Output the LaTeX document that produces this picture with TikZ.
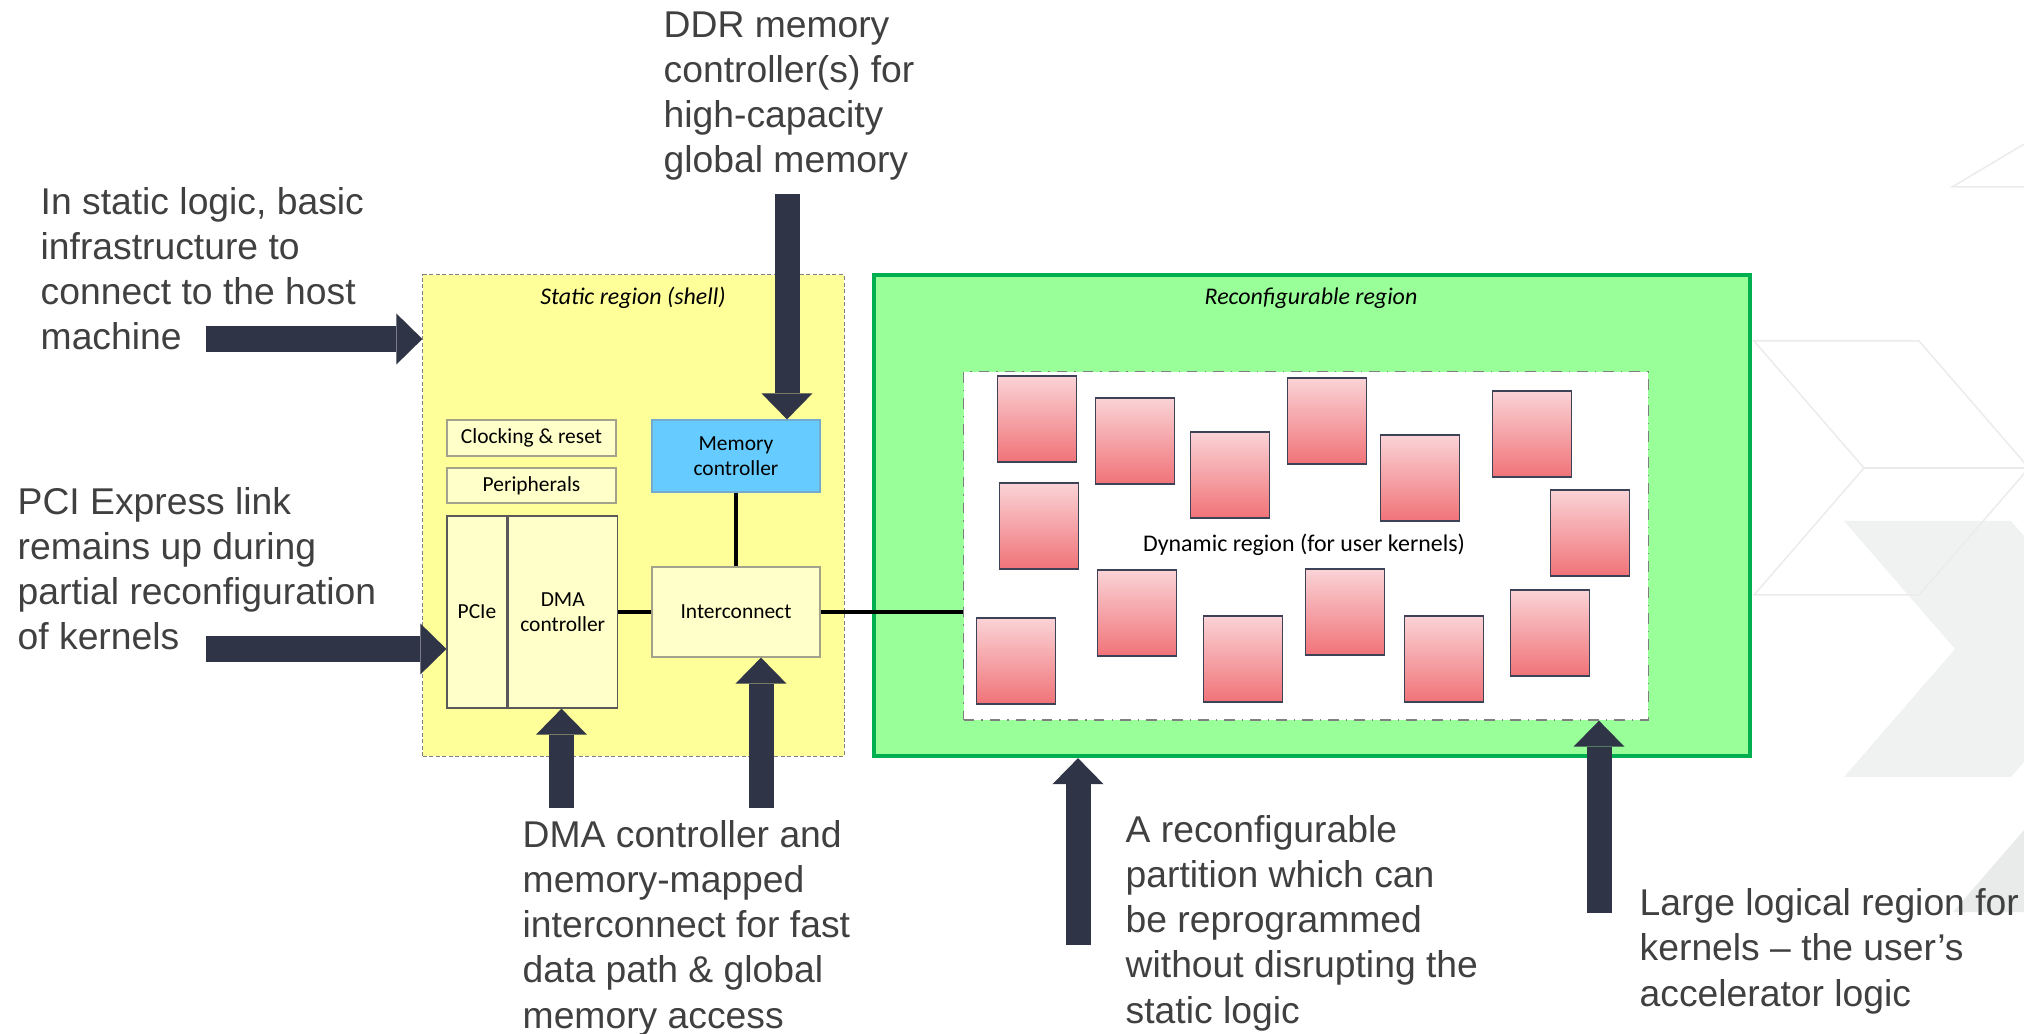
\documentclass[tikz,border=0pt]{standalone}
\usepackage{fontspec}
\setmainfont{Liberation Sans}
\newfontfamily\calibri{Carlito}
\usepackage{xcolor}
\usepackage{tikz}
\usetikzlibrary{arrows.meta}
\usetikzlibrary{positioning, calc}

\definecolor{txtgray}{HTML}{404040}
\definecolor{staticc}{HTML}{FFFF99}
\definecolor{regionb}{HTML}{808080}
\definecolor{boxc}{HTML}{FFFFC9}
\definecolor{boxb}{HTML}{A3A38C}
\definecolor{memcc}{HTML}{66CCFF}
\definecolor{memcb}{HTML}{74AACF}
\definecolor{greenc}{HTML}{99FF99}
\definecolor{greenb}{HTML}{00B050}
\definecolor{kerntop}{HTML}{FAD3D6}
\definecolor{kernbot}{HTML}{F07378}
\definecolor{kernb}{HTML}{3D4257}
\definecolor{arrowc}{HTML}{2F3447}
\definecolor{wmline}{HTML}{EBEBEB}
\definecolor{wmfill}{HTML}{F0F1F1}
\definecolor{wmfilltwo}{HTML}{E9EAEA}

\begin{document}
\begin{tikzpicture}[x=0.01cm, y=-0.01cm,
        txt/.style={font=\fontsize{10.6}{12.8}\selectfont, text=txtgray, align=left, inner sep=0pt, anchor=base west},
        title/.style={font=\calibri\itshape\fontsize{6.8}{8}\selectfont, inner sep=0pt},
        box/.style={draw=boxb, line width=0.012cm, fill=boxc, inner sep=0pt, align=center, font=\calibri\fontsize{6.1}{7.2}\selectfont},
        kernel/.style={draw=kernb, line width=0.014cm, top color=kerntop, bottom color=kernbot, minimum width=0.79cm, minimum height=0.86cm, inner sep=0pt},
        wire/.style={line width=0.04cm},
        bigarrow/.style={draw=arrowc, line width=0.25cm, -{Triangle[length=0.26cm, width=0.51cm, line width=0pt]}}
        ]
        \useasboundingbox (0,0) rectangle (2024,1034);

        \begin{scope}
        \clip (0,0) rectangle (2024,1034);
        \fill[wmfill] (1844,521) -- (2011,521) -- (2122,649) -- (2011,777) -- (1844,777) -- (1955,649) -- cycle;
        \fill[wmfilltwo] (1953,912) -- (2095,748) -- (2200,748) -- (2200,912) -- cycle;
        \draw[wmline, line width=0.015cm] (1754,341) -- (1919,341) -- (2029,468) -- (1919,595) -- (1754,595) -- (1864,468) -- cycle;
        \draw[wmline, line width=0.015cm] (1864,468) -- (2029,468);
        \draw[wmline, line width=0.015cm] (2100,99) -- (1952,187) -- (2100,187);
        \end{scope}

        \node[draw=regionb, dash pattern=on 0.04cm off 0.025cm, line width=0.01cm, fill=staticc, minimum width=4.21cm, minimum height=4.81cm, inner sep=0pt] (static) at (633.5,515.5) {};
        \node[title] (statictitle) at (633,298) {Static region (shell)};

        \node[box, minimum width=1.69cm, minimum height=0.36cm] (clk) at (531.5,438) {Clocking \& reset};
        \node[box, minimum width=1.69cm, minimum height=0.35cm] (peri) at (531.5,485.5) {Peripherals};
        \node[box, draw=black!65, minimum width=0.60cm, minimum height=1.92cm] (pcie) at (477,612) {PCIe};
        \node[box, draw=black!65, minimum width=1.09cm, minimum height=1.92cm, right=0pt of pcie] (dma) {DMA\\controller};
        \node[box, draw=memcb, fill=memcc, minimum width=1.68cm, minimum height=0.72cm] (memc) at (736,456) {Memory\\controller};
        \node[box, minimum width=1.68cm, minimum height=0.90cm] (ic) at (736,612) {Interconnect};

        \node[draw=greenb, line width=0.04cm, fill=greenc, minimum width=8.76cm, minimum height=4.81cm, inner sep=0pt] (recon) at (1312,515.5) {};
        \node[title] (recontitle) at (1311,298) {Reconfigurable region};
        \node[draw=regionb, dash dot, line width=0.012cm, fill=white, minimum width=6.84cm, minimum height=3.48cm, inner sep=0pt] (dyn) at (1306,546) {};
        \node[title, font=\calibri\fontsize{6.8}{8}\selectfont] (dynlabel) at (1304,545) {Dynamic region (for user kernels)};

        \foreach \kx/\ky [count=\i] in {1037/419, 1135/441, 1230/475, 1327/421, 1420/478, 1532/434, 1039/526,
                1590/533, 1137/613, 1345/612, 1550/633, 1016/661, 1243/659, 1444/659}
            \node[kernel] (k\i) at (\kx,\ky) {};

        \draw[wire] (dma.east) -- (ic.west);
        \draw[wire] (memc.south) -- (ic.north);
        \draw[wire] (ic.east) -- (ic.east -| dyn.west);

        \node[txt] (hosttxt) at (40,350) {In static logic, basic\\infrastructure to\\connect to the host\\machine};
        \node[txt] (pcitxt) at (17,650) {PCI Express link\\remains up during\\partial reconfiguration\\of kernels};
        \node[txt] (ddrtxt) at (663,173) {DDR memory\\controller(s) for\\high-capacity\\global memory};
        \node[txt] (dmatxt) at (522,1028) {DMA controller and\\memory-mapped\\interconnect for fast\\data path \& global\\memory access};
        \node[txt] (rectxt) at (1125,1023) {A reconfigurable\\partition which can\\be reprogrammed\\without disrupting the\\static logic};
        \node[txt] (bigtxt) at (1639,1006) {Large logical region for\\kernels – the user’s\\accelerator logic};

        \coordinate (hostT) at (206,339);
        \coordinate (pciT) at (206,649);
        \coordinate (ddrT) at (787,194);
        \coordinate (dmaT) at (561.5,808);
        \coordinate (icT) at (761,808);
        \coordinate (recT) at (1078,945);
        \coordinate (dynT) at (1599,913);

        \draw[bigarrow] (hostT) -- (hostT -| static.west);
        \draw[bigarrow] (pciT) -- (pciT -| pcie.west);
        \draw[bigarrow] (ddrT) -- (ddrT |- memc.north);
        \draw[bigarrow] (dmaT) -- (dmaT |- dma.south);
        \draw[bigarrow] (icT) -- (icT |- ic.south);
        \draw[bigarrow] (recT) -- (recT |- recon.south);
        \draw[bigarrow] (dynT) -- (dynT |- dyn.south);

\end{tikzpicture}
\end{document}
